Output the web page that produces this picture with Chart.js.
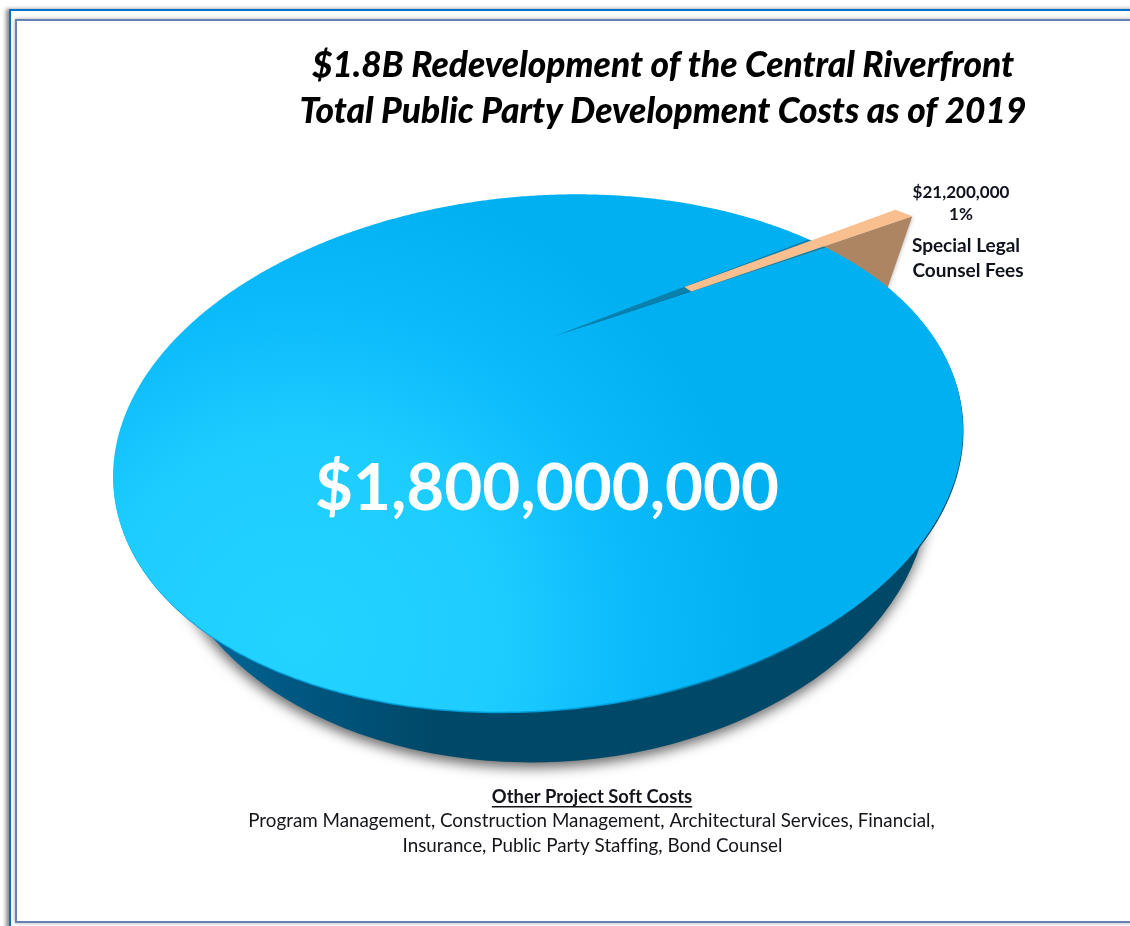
<!DOCTYPE html>
<html>
<head>
<meta charset="utf-8">
<title>Total Public Party Development Costs</title>
<script src="https://cdn.jsdelivr.net/npm/chart.js@4/dist/chart.umd.min.js"></script>
<style>
    html, body { margin: 0; width: 1130px; height: 926px; overflow: hidden; background: #fff; }
    .window-border { position: absolute; left: 9px; top: 9px; width: 1140px; height: 940px; border: 2px solid #0072cc; box-shadow: -3px 0 4px rgba(0, 0, 0, .45); }
    .panel-border { position: absolute; left: 15px; top: 19px; width: 1130px; height: 900px; border: 2px solid #6382b5; background: #fff; box-shadow: 0 0 4px rgba(0, 0, 0, .35); }
    canvas { position: absolute; left: 0; top: 0; }
</style>
</head>
<body>
<div class="window-border"></div>
<div class="panel-border"></div>
<canvas id="grafico" width="1130" height="926"></canvas>
<script>
const categorias = ['Other Project Soft Costs', 'Special Legal Counsel Fees'];
const custos = [1800000000, 21200000];
const coresTopo = ['#00b0f0', '#f9bf8e'];
const coresLado = ['#004867', '#ad8562'];
const titulo = ['$1.8B Redevelopment of the Central Riverfront', 'Total Public Party Development Costs as of 2019'];
const rotuloFatia = ['Special Legal', 'Counsel Fees'];
const legendaItens = ['Program Management, Construction Management, Architectural Services, Financial,', 'Insurance, Public Party Staffing, Bond Counsel'];

// tilted pie: ellipse of the top face, and how far the vanishing shifts its centre
const topo = { cx: 538, cy: 453, rx: 426, ry: 257, giro: -5 * Math.PI / 180, fuga: 0.452, fugaDir: -81.9 * Math.PI / 180 };
const base = { cx: 546, cy: 497, rx: 384, ry: 265, giro: -3 * Math.PI / 180 };
const explosao = 0.45;
const ladoFatia = { x: -27, y: 78 };

// unit circle -> screen, through a projective map that keeps the rim on the ellipse
function projetar(u, v) {
    const c = Math.cos(topo.fugaDir), s = Math.sin(topo.fugaDir);
    const x = u * c + v * s, y = -u * s + v * c;
    const w = 1 + topo.fuga * x;
    const bx = (x + topo.fuga) / w, by = y * Math.sqrt(1 - topo.fuga * topo.fuga) / w;
    const ex = (bx * c - by * s) * topo.rx, ey = (bx * s + by * c) * topo.ry;
    const cg = Math.cos(topo.giro), sg = Math.sin(topo.giro);
    return [topo.cx + ex * cg - ey * sg, topo.cy + ex * sg + ey * cg];
}

function caminhoBorda(ctx, inicio, fim, dx, dy) {
    const passos = Math.max(2, Math.ceil((fim - inicio) / 0.01));
    for (let i = 0; i <= passos; i++) {
        const a = inicio + (fim - inicio) * i / passos;
        ctx.lineTo(...projetar(dx + Math.cos(a), dy + Math.sin(a)));
    }
}

function caminhoFatia(ctx, inicio, fim) {
    ctx.beginPath();
    ctx.moveTo(...projetar(0, 0));
    caminhoBorda(ctx, inicio, fim, 0, 0);
    ctx.closePath();
}

const pizza3d = {
    id: 'pizza3d',
    beforeDatasetsDraw(chart) {
        const ctx = chart.ctx;
        const [principal, fatia] = chart.getDatasetMeta(0).data;
        const meio = (fatia.startAngle + fatia.endAngle) / 2;
        const dx = Math.cos(meio) * explosao, dy = Math.sin(meio) * explosao;

        // the pulled out slice has a blunt tip as wide as the notch at that distance
        const pontaA = projetar(Math.cos(fatia.startAngle) * explosao, Math.sin(fatia.startAngle) * explosao);
        const pontaB = projetar(Math.cos(fatia.endAngle) * explosao, Math.sin(fatia.endAngle) * explosao);
        const canto = projetar(dx + Math.cos(fatia.endAngle), dy + Math.sin(fatia.endAngle));

        // side wall of the big slice, with its drop shadow
        const lado = ctx.createLinearGradient(200, 0, 440, 0);
        lado.addColorStop(0, '#006a9c');
        lado.addColorStop(0.3, '#005a86');
        lado.addColorStop(1, coresLado[0]);
        ctx.save();
        ctx.shadowColor = 'rgba(0, 0, 0, .6)';
        ctx.shadowBlur = 13;
        ctx.shadowOffsetX = -1;
        ctx.shadowOffsetY = 5;
        ctx.fillStyle = lado;
        ctx.beginPath();
        ctx.ellipse(base.cx, base.cy, base.rx, base.ry, base.giro, 0, Math.PI * 2);
        ctx.fill();
        ctx.restore();

        // cut face of the pulled out slice, its lower part goes behind the big slice
        ctx.save();
        ctx.shadowColor = 'rgba(0, 0, 0, .35)';
        ctx.shadowBlur = 4;
        ctx.fillStyle = coresLado[1];
        ctx.beginPath();
        ctx.moveTo(...pontaB);
        ctx.lineTo(...canto);
        ctx.lineTo(canto[0] + ladoFatia.x, canto[1] + ladoFatia.y);
        ctx.lineTo(pontaB[0] + ladoFatia.x, pontaB[1] + ladoFatia.y);
        ctx.closePath();
        ctx.fill();
        ctx.restore();

        // thin edge under the rim: soft blue on the lit side, dark towards the right
        const beira = ctx.createLinearGradient(620, 0, 860, 0);
        beira.addColorStop(0, '#009fdc');
        beira.addColorStop(1, coresLado[0]);
        ctx.save();
        ctx.translate(0.5, 1.5);
        caminhoFatia(ctx, principal.startAngle, principal.endAngle);
        ctx.fillStyle = beira;
        ctx.fill();
        ctx.restore();

        // top face of the big slice, lit from the lower left
        const luz = ctx.createRadialGradient(300, 640, 0, 300, 640, 470);
        luz.addColorStop(0, '#22d3ff');
        luz.addColorStop(0.42, '#1ecdff');
        luz.addColorStop(0.72, '#0abafb');
        luz.addColorStop(1, coresTopo[0]);
        caminhoFatia(ctx, principal.startAngle, principal.endAngle);
        ctx.fillStyle = luz;
        ctx.fill();

        // inside of the notch left by the small slice
        caminhoFatia(ctx, fatia.startAngle, fatia.endAngle);
        ctx.fillStyle = '#0a80ad';
        ctx.fill();

        // top of the small slice
        ctx.beginPath();
        ctx.moveTo(...pontaA);
        caminhoBorda(ctx, fatia.startAngle, fatia.endAngle, dx, dy);
        ctx.lineTo(...pontaB);
        ctx.closePath();
        ctx.fillStyle = coresTopo[1];
        ctx.fill();

        return false;
    },
    afterDraw(chart) {
        const ctx = chart.ctx;
        const total = custos[0] + custos[1];
        const moeda = v => '$' + v.toLocaleString('en-US');
        ctx.save();
        ctx.textAlign = 'center';
        ctx.textBaseline = 'alphabetic';
        ctx.letterSpacing = '0.01px';   // keeps the "ti" and "ffi" letters apart

        ctx.fillStyle = '#fff';
        ctx.font = 'bold 65.5px Lato';
        ctx.fillText(moeda(custos[0]), 547, 510);

        ctx.fillStyle = '#10131c';
        ctx.font = 'bold 17px Lato';
        ctx.fillText(moeda(custos[1]), 961, 198);
        ctx.fillText(Math.round(custos[1] / total * 100) + '%', 961, 220);
        ctx.font = 'bold 19px Lato';
        ctx.fillText(rotuloFatia[0], 966, 252);
        ctx.fillText(rotuloFatia[1], 968, 277);

        ctx.fillStyle = '#14141a';
        ctx.font = 'bold 18.4px Lato';
        ctx.fillText(categorias[0], 592, 803);
        const larg = ctx.measureText(categorias[0]).width;
        ctx.fillRect(592 - larg / 2, 806, larg, 1.5);
        ctx.font = '18.8px Lato';
        ctx.fillText(legendaItens[0], 591.5, 827);
        ctx.fillText(legendaItens[1], 592.5, 852);
        ctx.restore();
    }
};

new Chart(document.getElementById('grafico'), {
    type: 'pie',
    data: {
        labels: categorias,
        datasets: [{ data: custos, backgroundColor: coresTopo, borderWidth: 0 }]
    },
    plugins: [pizza3d],
    options: {
        responsive: false,
        animation: false,
        rotation: 66,
        layout: { padding: { left: 196 } },
        plugins: {
            legend: { display: false },
            tooltip: { enabled: false },
            title: {
                display: true,
                text: titulo,
                color: '#000',
                font: { family: 'Lato', size: 35.3, weight: 900, style: 'italic', lineHeight: 1.3 },
                padding: { top: 43, bottom: 0 }
            }
        }
    }
});
</script>
</body>
</html>
